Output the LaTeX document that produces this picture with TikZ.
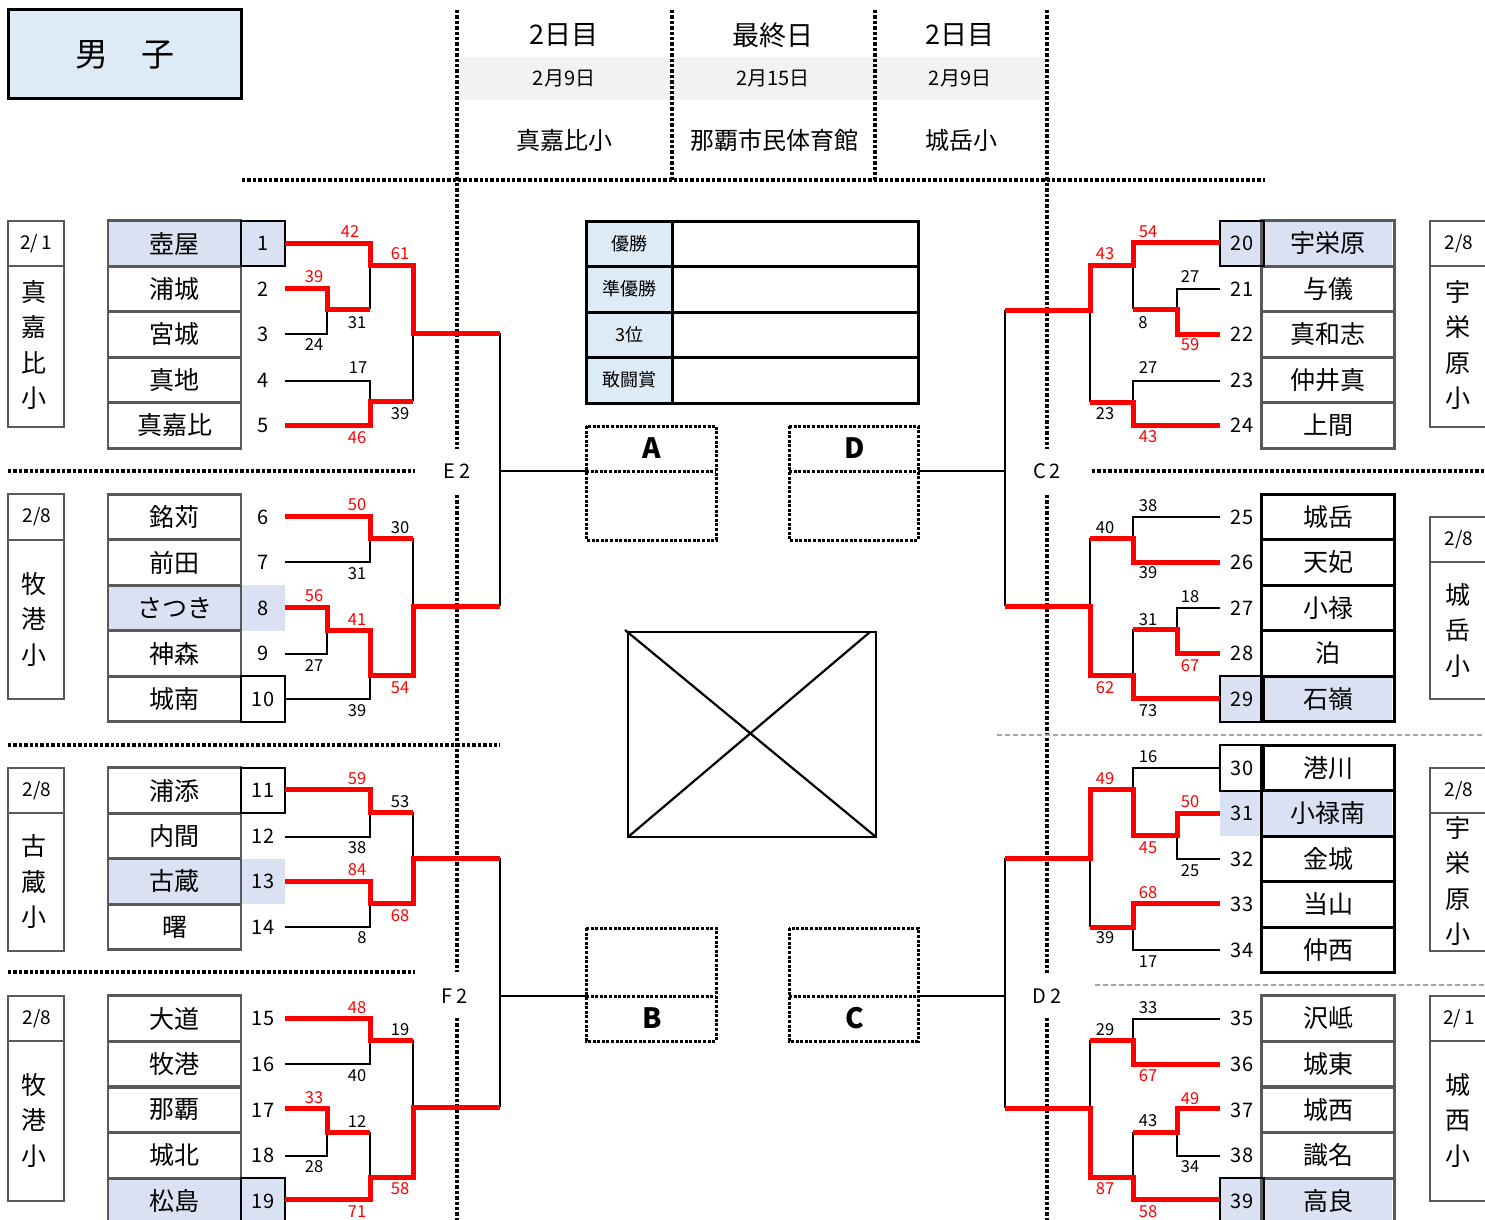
\documentclass[tikz,border=0pt]{standalone}
\usepackage{fontspec}
\setmainfont{Noto Sans CJK JP}
\definecolor{tblue}{HTML}{DDEBF7}
\definecolor{hblue}{HTML}{D9E1F2}
\definecolor{bgray}{HTML}{595959}
\definecolor{band}{HTML}{F2F2F2}
\definecolor{dgray}{HTML}{A6A6A6}
\newcommand\fsname{\fontsize{25}{28}\selectfont}
\newcommand\fsnum{\fontsize{20}{22}\selectfont}
\newcommand\fssc{\fontsize{16.5}{18}\selectfont}
\newcommand\fsvert{\fontsize{25}{35.5}\selectfont}
\begin{document}
\begin{tikzpicture}[x=1pt,y=-1pt,
  rline/.style={draw=red,line width=5pt,line join=miter},
  bline/.style={draw=black,line width=2.8pt,line join=miter},
  dotline/.style={draw=black,line width=3.4pt,dash pattern=on 3.4pt off 2pt},
  gdash/.style={draw=dgray,line width=2.4pt,dash pattern=on 5pt off 3pt},
  abox/.style={draw=black,line width=3pt,dash pattern=on 3pt off 1.6pt},
  namecell/.style={draw=#1,line width=2.8pt,minimum width=133pt,minimum height=45.5pt,inner sep=0pt,font=\fsname},
  numtxt/.style={inner sep=0pt,font=\fsnum},
  sc/.style={inner sep=0pt,font=\fssc,text=#1},
  gbox/.style={draw=bgray,line width=2.8pt},
  hdr/.style={inner sep=0pt}]
\useasboundingbox (0,0) rectangle (1485,1220);
\clip (0,0) rectangle (1485,1220);

% ---------- title ----------
\node[draw=black,line width=3pt,fill=tblue,minimum width=233pt,minimum height=89pt,inner sep=0pt,font=\fontsize{33}{36}\selectfont] (title) at (125,54.5) {男　子};

% ---------- header ----------
\fill[band] (460,57) rectangle (1045,100);
\node[hdr,font=\fontsize{27}{30}\selectfont] (h1a) at (564,35) {2日目};
\node[hdr,font=\fontsize{20}{22}\selectfont] (h1b) at (564,78) {2月9日};
\node[hdr,font=\fontsize{24}{26}\selectfont] (h1c) at (564,140) {真嘉比小};
\node[hdr,font=\fontsize{27}{30}\selectfont] (h2a) at (773,35) {最終日};
\node[hdr,font=\fontsize{20}{22}\selectfont] (h2b) at (773,78) {2月15日};
\node[hdr,font=\fontsize{24}{26}\selectfont] (h2c) at (774,140) {那覇市民体育館};
\node[hdr,font=\fontsize{27}{30}\selectfont] (h3a) at (960,35) {2日目};
\node[hdr,font=\fontsize{20}{22}\selectfont] (h3b) at (960,78) {2月9日};
\node[hdr,font=\fontsize{24}{26}\selectfont] (h3c) at (961,140) {城岳小};

% ---------- dotted guide lines ----------
\draw[dotline] (457,10) -- (457,449);
\draw[dotline] (457,495) -- (457,972);
\draw[dotline] (457,1018) -- (457,1220);
\draw[dotline] (1047,10) -- (1047,449);
\draw[dotline] (1047,495) -- (1047,973);
\draw[dotline] (1047,1018) -- (1047,1220);
\draw[dotline] (672,10) -- (672,180);
\draw[dotline] (875,10) -- (875,180);
\draw[dotline] (242,180) -- (1265,180);
\draw[dotline] (8,471) -- (415,471);
\draw[dotline] (8,745) -- (500,745);
\draw[dotline] (8,972) -- (415,972);
\draw[dotline] (1092,471) -- (1485,471);
\draw[gdash] (997,735) -- (1485,735);
\draw[gdash] (1095,985) -- (1485,985);

\node[hdr,font=\fontsize{20}{22}\selectfont] (E2) at (457,471) {E\kern4pt2};
\node[hdr,font=\fontsize{20}{22}\selectfont] (F2) at (455,996) {F\kern4pt2};
\node[hdr,font=\fontsize{20}{22}\selectfont] (C2) at (1047,471) {C\kern4pt2};
\node[hdr,font=\fontsize{20}{22}\selectfont] (D2) at (1047,996) {D\kern4pt2};

% ---------- highlights ----------
\fill[hblue] (108,221) rectangle (285,266);
\fill[hblue] (108,585) rectangle (285,631);
\fill[hblue] (108,859) rectangle (285,904);
\fill[hblue] (108,1178) rectangle (285,1224);
\fill[hblue] (1220,221) rectangle (1392,266);
\fill[hblue] (1220,676) rectangle (1392,722);
\fill[hblue] (1220,791) rectangle (1392,836);
\fill[hblue] (1220,1178) rectangle (1392,1224);

% ---------- left team cells ----------
\foreach \y/\nm/\num in {243.5/壺屋/1, 289/浦城/2, 334.5/宮城/3, 380/真地/4, 425.5/真嘉比/5,
  517/銘苅/6, 562.5/前田/7, 608/さつき/8, 653.5/神森/9, 699/城南/10,
  790.5/浦添/11, 836/内間/12, 881.5/古蔵/13, 927/曙/14,
  1018.5/大道/15, 1064/牧港/16, 1110/那覇/17, 1155.5/城北/18, 1201/松島/19}{
  \node[namecell=bgray] (T\num) at (174.5,\y) {\nm};
  \node[numtxt] (N\num) at (263,\y) {\num};
}
% ---------- right team cells ----------
\foreach \y/\nm/\num/\bc in {243.5/宇栄原/20/bgray, 289/与儀/21/bgray, 334.5/真和志/22/bgray, 380/仲井真/23/bgray, 425.5/上間/24/bgray,
  517/城岳/25/black, 562.5/天妃/26/black, 608/小禄/27/black, 653.5/泊/28/black, 699/石嶺/29/black,
  768/港川/30/black, 813.5/小禄南/31/black, 859/金城/32/black, 904.5/当山/33/black, 950/仲西/34/black,
  1018.5/沢岻/35/bgray, 1064/城東/36/bgray, 1110/城西/37/bgray, 1155.5/識名/38/bgray, 1201/高良/39/bgray}{
  \node[namecell=\bc] (T\num) at (1328,\y) {\nm};
  \node[numtxt] (N\num) at (1242,\y) {\num};
}
% number boxes with black frame
\draw[line width=2.8pt] (241,221) rectangle (285,266);
\draw[line width=2.8pt] (241,676) rectangle (285,722);
\draw[line width=2.8pt] (241,768) rectangle (285,813);
\draw[line width=2.8pt] (241,1178) rectangle (285,1224);
\draw[line width=2.8pt] (1220,221) rectangle (1264,266);
\draw[line width=2.8pt] (1220,676) rectangle (1264,722);
\draw[line width=2.8pt] (1220,745) rectangle (1264,791);
\draw[line width=2.8pt] (1220,1178) rectangle (1264,1224);

% ---------- school / date boxes ----------
\draw[gbox] (8,221) rectangle (64,266); \draw[gbox] (8,266) rectangle (64,427);
\node[hdr,font=\fontsize{19}{21}\selectfont] (dA) at (36,243.5) {2/\,1};
\node[hdr,align=center,font=\fsvert] (sA) at (34,345) {真\\嘉\\比\\小};
\draw[gbox] (8,494) rectangle (64,540); \draw[gbox] (8,540) rectangle (64,699);
\node[hdr,font=\fontsize{19}{21}\selectfont] (dB) at (37,517) {2/8};
\node[hdr,align=center,font=\fsvert] (sB) at (34,619) {牧\\港\\小};
\draw[gbox] (8,768) rectangle (64,813); \draw[gbox] (8,813) rectangle (64,951);
\node[hdr,font=\fontsize{19}{21}\selectfont] (dC) at (37,790.5) {2/8};
\node[hdr,align=center,font=\fsvert] (sC) at (34,882) {古\\蔵\\小};
\draw[gbox] (8,996) rectangle (64,1041); \draw[gbox] (8,1041) rectangle (64,1201);
\node[hdr,font=\fontsize{19}{21}\selectfont] (dD) at (37,1018.5) {2/8};
\node[hdr,align=center,font=\fsvert] (sD) at (34,1120) {牧\\港\\小};
\draw[gbox] (1430,221) rectangle (1495,266); \draw[gbox] (1430,266) rectangle (1495,427);
\node[hdr,font=\fontsize{19}{21}\selectfont] (dE) at (1459,243.5) {2/8};
\node[hdr,align=center,font=\fsvert] (sE) at (1458,345) {宇\\栄\\原\\小};
\draw[gbox] (1430,517) rectangle (1495,562); \draw[gbox] (1430,562) rectangle (1495,699);
\node[hdr,font=\fontsize{19}{21}\selectfont] (dF) at (1459,540) {2/8};
\node[hdr,align=center,font=\fsvert] (sF) at (1458,630) {城\\岳\\小};
\draw[gbox] (1430,768) rectangle (1495,813); \draw[gbox] (1430,813) rectangle (1495,951);
\node[hdr,font=\fontsize{19}{21}\selectfont] (dG) at (1459,790.5) {2/8};
\node[hdr,align=center,font=\fsvert] (sG) at (1458,881) {宇\\栄\\原\\小};
\draw[gbox] (1430,996) rectangle (1495,1041); \draw[gbox] (1430,1041) rectangle (1495,1201);
\node[hdr,font=\fontsize{19}{21}\selectfont] (dH) at (1459,1018.5) {2/\,1};
\node[hdr,align=center,font=\fsvert] (sH) at (1458,1120) {城\\西\\小};

% ---------- results table ----------
\fill[tblue] (586,221) rectangle (672,403);
\draw[line width=3pt] (586,221) rectangle (918,403);
\draw[line width=3pt] (586,266) -- (918,266) (586,312) -- (918,312) (586,357) -- (918,357) (672,221) -- (672,403);
\node[hdr,font=\fontsize{18}{20}\selectfont] (r1) at (629,243.5) {優勝};
\node[hdr,font=\fontsize{18}{20}\selectfont] (r2) at (629,289) {準優勝};
\node[hdr,font=\fontsize{18}{20}\selectfont] (r3) at (629,334.5) {3位};
\node[hdr,font=\fontsize{18}{20}\selectfont] (r4) at (629,380) {敢闘賞};

% ---------- A B C D boxes ----------
\draw[abox] (586,426) rectangle (716,540); \draw[abox] (586,471) -- (716,471);
\draw[abox] (789,426) rectangle (918,540); \draw[abox] (789,471) -- (918,471);
\draw[abox] (586,928) rectangle (716,1041); \draw[abox] (586,996) -- (716,996);
\draw[abox] (789,928) rectangle (918,1041); \draw[abox] (789,996) -- (918,996);
\node[hdr,font=\fontsize{28}{30}\selectfont\bfseries] (bA) at (652,448) {A};
\node[hdr,font=\fontsize{28}{30}\selectfont\bfseries] (bD) at (855,448) {D};
\node[hdr,font=\fontsize{28}{30}\selectfont\bfseries] (bB) at (652,1018) {B};
\node[hdr,font=\fontsize{28}{30}\selectfont\bfseries] (bC) at (855,1018) {C};
\coordinate (Ain) at (586,471);
\coordinate (Din) at (918,471);
\coordinate (Bin) at (586,996);
\coordinate (Cin) at (918,996);

% ---------- crossed box ----------
\draw[line width=2.8pt] (628,632) rectangle (876,837);
\draw[line width=2.2pt] (625,630) -- (876,837) (628,837) -- (870,632);

% ---------- left bracket: black ----------
\draw[bline] (285,334) -- (327,334) -- (327,309);
\draw[bline] (370,265) -- (370,309);
\draw[bline] (285,381) -- (370,381) -- (370,401);
\draw[bline] (413,333) -- (413,401);
\draw[bline] (285,562) -- (370,562) -- (370,538);
\draw[bline] (413,538) -- (413,606);
\draw[bline] (285,654) -- (327,654) -- (327,630);
\draw[bline] (285,699) -- (370,699) -- (370,675);
\draw[bline] (285,837) -- (370,837) -- (370,812);
\draw[bline] (413,812) -- (413,858);
\draw[bline] (285,927) -- (370,927) -- (370,903);
\draw[bline] (285,1064) -- (370,1064) -- (370,1040);
\draw[bline] (413,1040) -- (413,1107);
\draw[bline] (285,1156) -- (327,1156) -- (327,1132);
\draw[bline] (370,1132) -- (370,1177);
\draw[bline] (500,333) -- (500,606);
\draw[bline] (500,471) -- (Ain);
\draw[bline] (500,858) -- (500,1107);
\draw[bline] (500,996) -- (Bin);
% ---------- left bracket: red ----------
\draw[rline] (285,243) -- (370,243) -- (370,265) -- (413,265) -- (413,333) -- (500,333);
\draw[rline] (285,288) -- (327,288) -- (327,309) -- (370,309);
\draw[rline] (285,425) -- (370,425) -- (370,401) -- (413,401);
\draw[rline] (285,516) -- (370,516) -- (370,538) -- (413,538);
\draw[rline] (285,607) -- (327,607) -- (327,630) -- (370,630) -- (370,675) -- (413,675) -- (413,606) -- (500,606);
\draw[rline] (285,789) -- (370,789) -- (370,812) -- (413,812);
\draw[rline] (285,881) -- (370,881) -- (370,903) -- (413,903) -- (413,858) -- (500,858);
\draw[rline] (285,1018) -- (370,1018) -- (370,1040) -- (413,1040);
\draw[rline] (285,1108) -- (327,1108) -- (327,1132) -- (370,1132);
\draw[rline] (285,1199) -- (370,1199) -- (370,1177) -- (413,1177) -- (413,1107) -- (500,1107);

% ---------- right bracket: black ----------
\draw[bline] (1220,289) -- (1177,289) -- (1177,309);
\draw[bline] (1133,265) -- (1133,309);
\draw[bline] (1220,381) -- (1133,381) -- (1133,402);
\draw[bline] (1090,310) -- (1090,402);
\draw[bline] (1220,517) -- (1133,517) -- (1133,538);
\draw[bline] (1090,538) -- (1090,606);
\draw[bline] (1220,608) -- (1177,608) -- (1177,629);
\draw[bline] (1133,629) -- (1133,675);
\draw[bline] (1220,768) -- (1133,768) -- (1133,789);
\draw[bline] (1220,859) -- (1177,859) -- (1177,835);
\draw[bline] (1090,858) -- (1090,927);
\draw[bline] (1220,950) -- (1133,950) -- (1133,927);
\draw[bline] (1220,1019) -- (1133,1019) -- (1133,1040);
\draw[bline] (1090,1040) -- (1090,1108);
\draw[bline] (1220,1156) -- (1177,1156) -- (1177,1132);
\draw[bline] (1133,1132) -- (1133,1177);
\draw[bline] (1005,310) -- (1005,606);
\draw[bline] (1005,471) -- (Din);
\draw[bline] (1005,858) -- (1005,1108);
\draw[bline] (1005,996) -- (Cin);
% ---------- right bracket: red ----------
\draw[rline] (1220,242) -- (1133,242) -- (1133,265) -- (1090,265) -- (1090,310) -- (1005,310);
\draw[rline] (1220,334) -- (1177,334) -- (1177,309) -- (1133,309);
\draw[rline] (1220,425) -- (1133,425) -- (1133,402) -- (1090,402);
\draw[rline] (1220,562) -- (1133,562) -- (1133,538) -- (1090,538);
\draw[rline] (1220,653) -- (1177,653) -- (1177,629) -- (1133,629);
\draw[rline] (1220,698) -- (1133,698) -- (1133,675) -- (1090,675) -- (1090,606) -- (1005,606);
\draw[rline] (1220,813) -- (1177,813) -- (1177,835) -- (1133,835) -- (1133,789) -- (1090,789) -- (1090,858) -- (1005,858);
\draw[rline] (1220,903) -- (1133,903) -- (1133,927) -- (1090,927);
\draw[rline] (1220,1064) -- (1133,1064) -- (1133,1040) -- (1090,1040);
\draw[rline] (1220,1108) -- (1177,1108) -- (1177,1132) -- (1133,1132);
\draw[rline] (1220,1199) -- (1133,1199) -- (1133,1177) -- (1090,1177) -- (1090,1108) -- (1005,1108);

% ---------- scores ----------
\foreach \x/\y/\t/\c in {
  350/232/42/red, 400/254/61/red, 314/277/39/red, 357/323/31/black, 314/345/24/black, 358/368/17/black, 400/414/39/black, 357/438/46/red,
  357/505/50/red, 400/528/30/black, 357/574/31/black, 314/596/56/red, 357/620/41/red, 314/666/27/black, 400/688/54/red, 357/711/39/black,
  357/779/59/red, 400/802/53/black, 357/848/38/black, 357/870/84/red, 400/916/68/red, 362/938/8/black,
  357/1008/48/red, 400/1030/19/black, 357/1076/40/black, 314/1098/33/red, 357/1121/12/black, 314/1167/28/black, 400/1189/58/red, 357/1212/71/red,
  1148/232/54/red, 1105/254/43/red, 1190/277/27/black, 1143/323/8/black, 1190/345/59/red, 1148/368/27/black, 1105/414/23/black, 1148/437/43/red,
  1148/506/38/black, 1105/528/40/black, 1148/573/39/black, 1190/597/18/black, 1148/620/31/black, 1190/666/67/red, 1105/688/62/red, 1148/711/73/black,
  1148/757/16/black, 1105/779/49/red, 1190/802/50/red, 1148/848/45/red, 1190/871/25/black, 1148/893/68/red, 1105/938/39/black, 1148/962/17/black,
  1148/1008/33/black, 1105/1030/29/black, 1148/1076/67/red, 1190/1099/49/red, 1148/1121/43/black, 1190/1167/34/black, 1105/1189/87/red, 1148/1212/58/red}{
  \node[sc=\c] (s\x-\y) at (\x,\y) {\t};
}
\end{tikzpicture}
\end{document}
